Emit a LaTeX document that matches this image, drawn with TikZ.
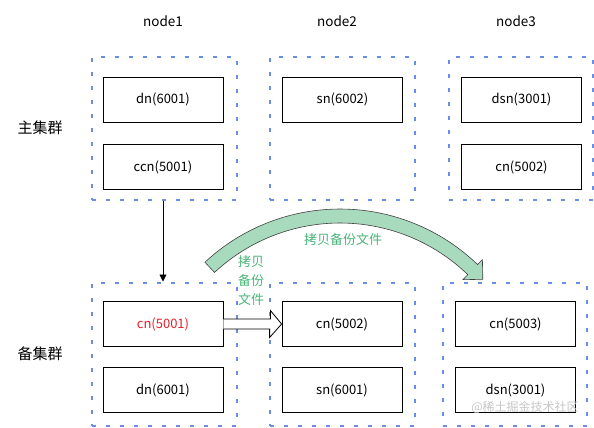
\documentclass[tikz,border=0pt]{standalone}
\usepackage{fontspec}
\setmainfont{Noto Sans CJK SC}
\usepackage{xcolor}
\usepackage{tikz}
\usetikzlibrary{arrows.meta,calc}
\definecolor{dotblue}{RGB}{106,142,230}
\definecolor{copyfill}{RGB}{168,218,190}
\definecolor{copytext}{RGB}{72,180,120}
\definecolor{cnred}{RGB}{230,30,40}

\begin{document}
\begin{tikzpicture}[x=1pt, y=-1pt,
    svc/.style={draw, line width=0.8pt, minimum width=120pt, minimum height=45pt, inner sep=0pt, font=\fontsize{13}{15}\selectfont},
    grp/.style={draw=dotblue, line width=2pt, dash pattern=on 4pt off 10pt, minimum width=145pt, minimum height=143pt, inner sep=0pt},
    head/.style={font=\fontsize{13.5}{16}\selectfont},
    side/.style={font=\fontsize{15}{18}\selectfont},
    note/.style={copytext, font=\fontsize{13}{19}\selectfont, align=center}]
    \useasboundingbox (0,0) rectangle (594,428);

    % Titles
    \foreach \n/\x in {1/163, 2/337, 3/516} {
        \node[head] (title\n) at (\x,21) {node\n};
    }
    \node[side] (mainlbl) at (40,128) {主集群};
    \node[side] (backlbl) at (40,354) {备集群};

    % Groups
    \node[grp] (grpA1) at (164.5,128.5) {};
    \node[grp] (grpA2) at (342.5,128.5) {};
    \node[grp, minimum width=144pt] (grpA3) at (521,128.5) {};
    \node[grp] (grpB1) at (164.5,354) {};
    \node[grp] (grpB2) at (342.5,354) {};
    \node[grp, minimum width=144pt] (grpB3) at (515,354.5) {};

    % Main cluster
    \node[svc] (dnA) at (163,99.5) {dn(6001)};
    \node[svc] (ccnA) at (163,167) {ccn(5001)};
    \node[svc] (snA) at (342.5,99.5) {sn(6002)};
    \node[svc] (dsnA) at (521.5,99.5) {dsn(3001)};
    \node[svc] (cnA) at (521.5,167) {cn(5002)};

    % Backup cluster
    \node[svc, text=cnred] (cnB1) at (163,324) {cn(5001)};
    \node[svc] (dnB) at (163,390) {dn(6001)};
    \node[svc] (cnB2) at (342,324) {cn(5002)};
    \node[svc] (snB) at (342,390) {sn(6001)};
    \node[svc] (cnB3) at (515.5,324) {cn(5003)};
    \node[svc] (dsnB) at (515.5,390) {dsn(3001)};

    % Arrows
    \draw[line width=0.8pt, -{Triangle[length=7pt,width=7pt]}] (ccnA |- grpA1.south) -- (ccnA |- grpB1.north);
    \draw[line width=0.8pt, fill=white] ($(cnB1.east)+(0,-5)$) -- ++(47,0) -- ++(0,-8.5)
        -- (cnB2.west) -- ++(-12,13.5) -- ++(0,-8.5) -- ($(cnB1.east)+(0,5)$);
    \filldraw[fill=copyfill, draw=black!75, line width=0.6pt]
        plot[domain=133:46, samples=50] ({340+198*cos(\x)},{407-198*sin(\x)})
        -- ({340+205*cos(46)},{407-205*sin(46)}) -- (482.8,279.3)
        -- ({340+177*cos(46)},{407-177*sin(46)})
        -- plot[domain=46:133, samples=50] ({340+184*cos(\x)},{407-184*sin(\x)}) -- cycle;

    % Labels
    \node[note] (copylbl) at (343,240) {拷贝备份文件};
    \node[note] (copylbl2) at (251,281) {拷贝\\备份\\文件};
    \node[gray!45, font=\fontsize{12}{14}\selectfont] (mark) at (525,407) {@稀土掘金技术社区};
\end{tikzpicture}
\end{document}
